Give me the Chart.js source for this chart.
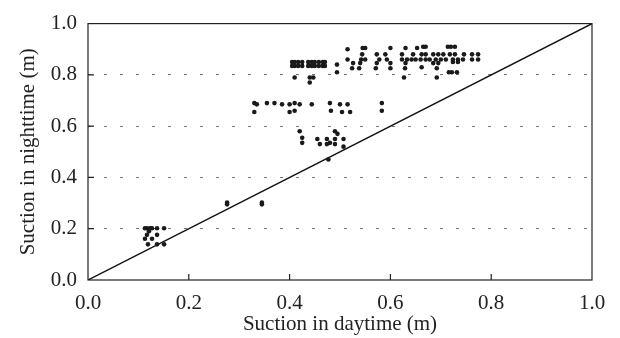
<!DOCTYPE html>
<html>
<head>
<meta charset="utf-8">
<script src="https://cdn.jsdelivr.net/npm/chart.js@4.4.1/dist/chart.umd.min.js"></script>
<style>
  html, body { margin: 0; padding: 0; background: #fff; }
  #wrap { width: 620px; height: 338px; }
</style>
</head>
<body>
<div id="wrap"><canvas id="suction-chart"></canvas></div>
<script>
// daytime suction (x) and nighttime suction (y), in metres
const daySuction = [
  // low cluster
  0.113, 0.117, 0.123, 0.127, 0.137, 0.151, 0.121, 0.117, 0.137, 0.113, 0.127, 0.119, 0.137, 0.151,
  // ~0.3
  0.276, 0.276, 0.345, 0.345,
  // ~0.65-0.69 row
  0.330, 0.335, 0.355, 0.370, 0.385, 0.400, 0.410, 0.420, 0.444, 0.480, 0.500, 0.515, 0.583,
  0.330, 0.400, 0.410, 0.482, 0.504, 0.520, 0.583,
  // 0.47-0.58 group
  0.420, 0.425, 0.425, 0.455, 0.460, 0.490, 0.495, 0.474, 0.490, 0.507, 0.474, 0.480, 0.490, 0.507, 0.477,
  // 0.77-0.85 group
  0.405, 0.410, 0.417, 0.425, 0.437, 0.444, 0.450, 0.458, 0.466, 0.470,
  0.405, 0.410, 0.417, 0.425, 0.437, 0.444, 0.450, 0.458, 0.466, 0.470,
  0.410, 0.440, 0.447, 0.440, 0.494, 0.494, 0.515, 0.515,
  // upper band
  0.545, 0.550, 0.600, 0.630, 0.653, 0.665, 0.670, 0.714, 0.720, 0.728,
  0.544, 0.573, 0.590, 0.623, 0.645, 0.662, 0.670, 0.685, 0.695, 0.705, 0.718, 0.728, 0.746, 0.762, 0.774,
  0.542, 0.550, 0.578, 0.593, 0.623, 0.633, 0.642, 0.650, 0.660, 0.670, 0.678, 0.690, 0.700, 0.710, 0.724, 0.734, 0.744, 0.762, 0.774,
  0.526, 0.540, 0.573, 0.600, 0.630, 0.685, 0.695, 0.724, 0.734,
  0.524, 0.538, 0.571, 0.600, 0.629, 0.662, 0.692,
  0.716, 0.722, 0.732, 0.627, 0.692
];
const nightSuction = [
  0.202, 0.202, 0.202, 0.202, 0.202, 0.202, 0.190, 0.176, 0.176, 0.161, 0.161, 0.139, 0.139, 0.139,
  0.302, 0.295, 0.302, 0.295,
  0.690, 0.685, 0.690, 0.690, 0.685, 0.685, 0.690, 0.685, 0.685, 0.690, 0.685, 0.685, 0.690,
  0.655, 0.655, 0.660, 0.660, 0.655, 0.655, 0.660,
  0.580, 0.555, 0.535, 0.550, 0.530, 0.580, 0.570, 0.550, 0.550, 0.550, 0.530, 0.535, 0.530, 0.520, 0.470,
  0.850, 0.850, 0.850, 0.850, 0.850, 0.850, 0.850, 0.850, 0.850, 0.850,
  0.835, 0.835, 0.835, 0.835, 0.835, 0.835, 0.835, 0.835, 0.835, 0.835,
  0.790, 0.790, 0.790, 0.770, 0.840, 0.810, 0.900, 0.860,
  0.905, 0.905, 0.905, 0.905, 0.905, 0.910, 0.910, 0.910, 0.910, 0.910,
  0.880, 0.880, 0.880, 0.880, 0.880, 0.880, 0.880, 0.880, 0.880, 0.880, 0.880, 0.880, 0.880, 0.880, 0.880,
  0.860, 0.860, 0.860, 0.860, 0.860, 0.860, 0.860, 0.860, 0.860, 0.860, 0.860, 0.860, 0.860, 0.860, 0.860, 0.860, 0.860, 0.860, 0.860,
  0.846, 0.846, 0.846, 0.846, 0.846, 0.846, 0.846, 0.850, 0.850,
  0.826, 0.826, 0.826, 0.826, 0.826, 0.830, 0.826,
  0.810, 0.810, 0.810, 0.790, 0.790
];
// 1:1 reference line
const equalLineX = [0, 1];
const equalLineY = [0, 1];
const tickValues = [0, 0.2, 0.4, 0.6, 0.8, 1.0];

const serif = '"Liberation Serif", "DejaVu Serif", serif';

// frame around the plot + short inward tick marks
const framePlugin = {
  id: 'frame',
  afterDatasetsDraw(chart) {
    const { ctx, chartArea: a, scales } = chart;
    ctx.save();
    ctx.strokeStyle = '#222';
    ctx.lineWidth = 1.2;
    ctx.strokeRect(a.left, a.top, a.right - a.left, a.bottom - a.top);
    ctx.beginPath();
    tickValues.slice(1, -1).forEach(v => {
      const px = scales.x.getPixelForValue(v);
      ctx.moveTo(px, a.bottom);
      ctx.lineTo(px, a.bottom - 6);
      const py = scales.y.getPixelForValue(v);
      ctx.moveTo(a.left, py);
      ctx.lineTo(a.left + 6, py);
    });
    ctx.stroke();
    ctx.restore();
  }
};

new Chart(document.getElementById('suction-chart'), {
  type: 'scatter',
  data: {
    datasets: [
      {
        label: 'measured',
        data: daySuction.map((d, i) => ({ x: d, y: nightSuction[i] })),
        backgroundColor: '#1a1a1a',
        borderWidth: 0,
        pointRadius: 2.3,
      },
      {
        label: '1:1',
        data: equalLineX.map((d, i) => ({ x: d, y: equalLineY[i] })),
        showLine: true,
        borderColor: '#111',
        borderWidth: 1.4,
        pointRadius: 0,
      }
    ]
  },
  options: {
    responsive: true,
    maintainAspectRatio: false,
    animation: false,
    layout: { padding: { top: 13, right: 28, left: 0, bottom: 0 } },
    plugins: { legend: { display: false }, tooltip: { enabled: false } },
    scales: {
      x: {
        type: 'linear',
        min: 0, max: 1,
        afterFit: s => { s.height = 58; },
        ticks: {
          stepSize: 0.2,
          padding: 3,
          color: '#222',
          font: { family: serif, size: 21 },
          callback: v => v.toFixed(1)
        },
        grid: { display: false },
        border: { display: false },
        title: {
          display: true,
          text: 'Suction in daytime (m)',
          color: '#222',
          font: { family: serif, size: 21 },
          padding: { top: 0, bottom: 1 }
        }
      },
      y: {
        type: 'linear',
        min: 0, max: 1,
        afterFit: s => { s.width = 88; },
        ticks: {
          stepSize: 0.2,
          padding: 11,
          color: '#222',
          font: { family: serif, size: 21 },
          callback: v => v.toFixed(1)
        },
        grid: {
          drawTicks: false,
          lineWidth: 1,
          color: c => (c.tick && (c.tick.value === 0 || c.tick.value === 1)) ? 'rgba(0,0,0,0)' : '#777'
        },
        border: { display: false, dash: [3, 13] },
        title: {
          display: true,
          text: 'Suction in nighttime (m)',
          color: '#222',
          font: { family: serif, size: 21 },
          padding: { top: 16, bottom: 0 }
        }
      }
    }
  },
  plugins: [framePlugin]
});
</script>
</body>
</html>
